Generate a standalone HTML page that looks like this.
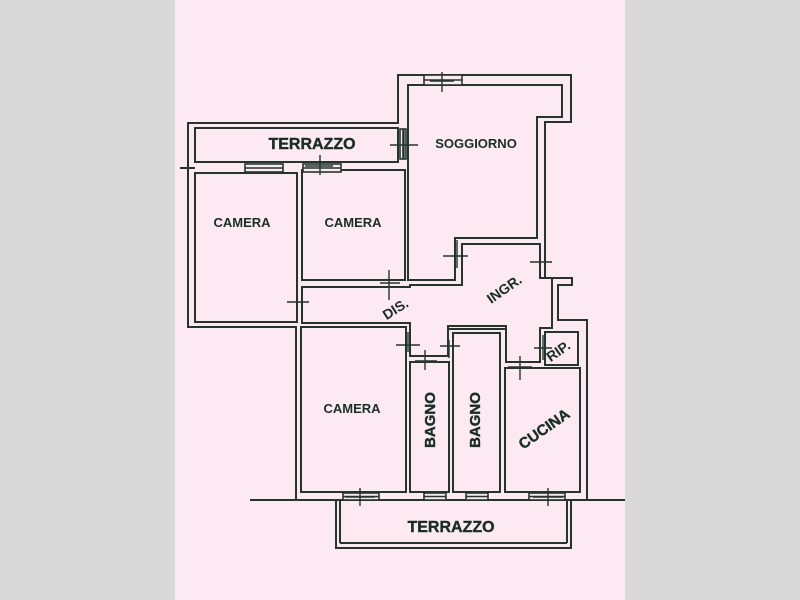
<!DOCTYPE html>
<html><head><meta charset="utf-8"><style>
html,body{margin:0;padding:0;background:#d9d9d9;}
svg{display:block}
text{font-family:"Liberation Sans",sans-serif;font-weight:bold;fill:#173026;}
</style></head><body>
<svg width="800" height="600" viewBox="0 0 800 600" xmlns="http://www.w3.org/2000/svg">
<rect x="0" y="0" width="800" height="600" fill="#d9d9d9"/>
<rect x="175" y="0" width="450" height="600" fill="#fde9f1"/>
<g fill="none" stroke="#22362c" stroke-width="2">
<polygon points="188,123 398,123 398,75 571,75 571,122 545,122 545,278 572,278 572,285 558,285 558,320 587,320 587,500 296,500 296,327 188,327"/>
<line x1="250" y1="500" x2="625" y2="500"/>
<line x1="180" y1="168" x2="195" y2="168"/>
<rect x="195" y="128" width="203" height="34"/>
<polygon points="408,85 562,85 562,117 537,117 537,238 455,238 455,280 408,280"/>
<rect x="195" y="173" width="102" height="149"/>
<rect x="302" y="170" width="103" height="110"/>
<polygon points="302,287 410,287 410,285 462,285 462,244 540,244 540,278 552,278 552,328 540,328 540,362 506,362 506,326 448,326 448,356 410,356 410,323 302,323"/>
<rect x="301" y="327" width="105" height="165"/>
<rect x="410" y="362" width="39" height="130"/>
<rect x="453" y="333" width="47" height="159"/>
<line x1="448" y1="329" x2="506" y2="329"/>
<rect x="505" y="368" width="75" height="124"/>
<rect x="545" y="332" width="33" height="33"/>
<polyline points="336,500 336,548 571,548 571,500"/>
<line x1="340" y1="543" x2="567" y2="543"/>
<line x1="340" y1="500" x2="340" y2="543"/>
<line x1="567" y1="500" x2="567" y2="543"/>
</g>
<g fill="#fde9f1" stroke="#22362c" stroke-width="1.6">
<rect x="424" y="75" width="38" height="10"/>
<rect x="245" y="164" width="38" height="8"/>
<rect x="303" y="164" width="38" height="8"/>
<rect x="400" y="129" width="6" height="30"/>
<rect x="343" y="493" width="36" height="7"/>
<rect x="424" y="493" width="22" height="7"/>
<rect x="466" y="493" width="22" height="7"/>
<rect x="529" y="493" width="36" height="7"/>
</g>
<g stroke="#22362c" stroke-width="1.6">
<path d="M424,80h38M245,168h38M303,168h38M403,129v30M343,496.5h36M424,496.5h22M466,496.5h22M529,496.5h36"/>
</g>
<g stroke="#22362c" stroke-width="1.4">
<path d="M442,72v20M430,81h24"/>
<path d="M320,155v20M305,166h28"/>
<path d="M404,130v28M390,145h28"/>
<path d="M297,290v28M287,302h22"/>
<path d="M389,270v30M380,283h20"/>
<path d="M457,240v28M443,256h25"/>
<path d="M540,250v28M530,262h22"/>
<path d="M408,332v20M396,345h24"/>
<path d="M425,350v20M415,361h22"/>
<path d="M449,340v18M440,346h20"/>
<path d="M520,356v24M508,367h24"/>
<path d="M543,335v25M534,348h18"/>
<path d="M360,488v18M345,497h30"/>
<path d="M548,488v18M533,497h30"/>
</g>
<text x="312" y="149" font-size="16" font-weight="normal" text-anchor="middle" stroke="#173026" stroke-width="0.4">TERRAZZO</text>
<text x="476" y="148" font-size="13" text-anchor="middle">SOGGIORNO</text>
<text x="242" y="227" font-size="13" text-anchor="middle">CAMERA</text>
<text x="353" y="227" font-size="13" text-anchor="middle">CAMERA</text>
<text x="352" y="413" font-size="13" text-anchor="middle">CAMERA</text>
<text transform="translate(398,313) rotate(-32)" font-size="14" text-anchor="middle">DIS.</text>
<text transform="translate(507,293) rotate(-35)" font-size="14" text-anchor="middle">INGR.</text>
<text transform="translate(561,355) rotate(-35)" font-size="14" text-anchor="middle">RIP.</text>
<text transform="translate(435,420) rotate(-90)" font-size="15" font-weight="normal" text-anchor="middle" stroke="#173026" stroke-width="0.4">BAGNO</text>
<text transform="translate(480,420) rotate(-90)" font-size="15" font-weight="normal" text-anchor="middle" stroke="#173026" stroke-width="0.4">BAGNO</text>
<text transform="translate(547,433) rotate(-35)" font-size="15" font-weight="normal" text-anchor="middle" stroke="#173026" stroke-width="0.4">CUCINA</text>
<text x="451" y="532" font-size="16" font-weight="normal" text-anchor="middle" stroke="#173026" stroke-width="0.4">TERRAZZO</text>
</svg>
</body></html>
